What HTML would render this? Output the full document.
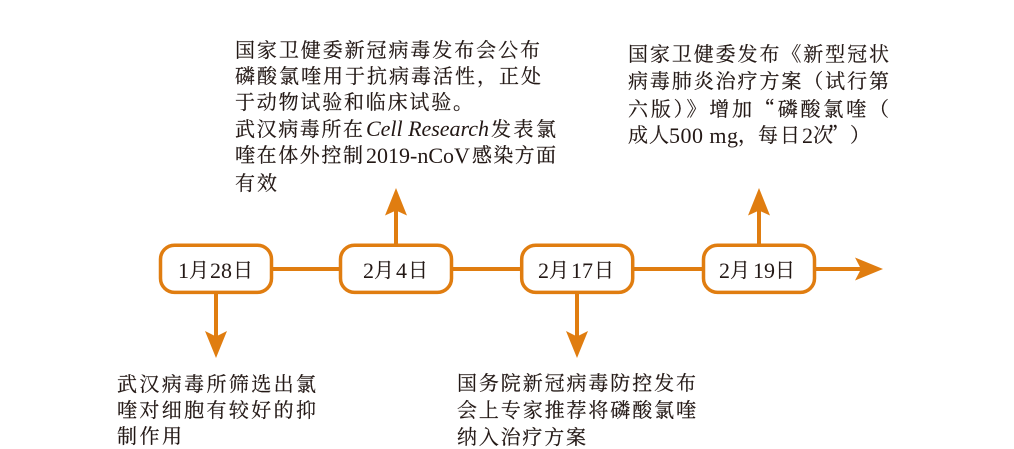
<!DOCTYPE html>
<html><head><meta charset="utf-8"><style>
html,body{margin:0;padding:0;background:#fff}
svg{display:block}
text{font-family:"Noto Serif CJK SC","Liberation Serif",serif;font-size:20px;fill:#231815;stroke:#231815;stroke-width:.2px}
.l{font-family:"Liberation Serif",serif;font-size:22px;stroke-width:0}
.i{font-style:italic}
</style></head><body>
<svg width="1014" height="449" viewBox="0 0 1014 449" xmlns="http://www.w3.org/2000/svg">
<g stroke="#e07d10" stroke-width="4" fill="none">
<path d="M272 269H339M453 269H521M634 269H702M815 269H864"/>
<path d="M216 293V342M396 244V208M577 293V342M759 244V208"/>
</g>
<g fill="#e07d10">
<path d="M883 269L855 257.500L861 269L855 280.500Z"/>
<path d="M216 358L205 331L216 336.500L227 331Z"/>
<path d="M577 358L566 331L577 336.500L588 331Z"/>
<path d="M396 188L385 215.500L396 210.500L407 215.500Z"/>
<path d="M759 188L748 215.500L759 210.500L770 215.500Z"/>
</g>
<g fill="#fff" stroke="#e07d10" stroke-width="3.5">
<rect x="160.500" y="245.200" width="111" height="47.200" rx="14"/>
<rect x="340.500" y="245.200" width="111" height="47.200" rx="14"/>
<rect x="521.700" y="245.200" width="111" height="47.200" rx="14"/>
<rect x="703.500" y="245.200" width="111" height="47.200" rx="14"/>
</g>

<text class="l" x="178" y="278">1</text><text x="189" y="277">月</text><text class="l" x="210" y="278">28</text><text x="233" y="277">日</text>
<text class="l" x="363" y="278">2</text><text x="374" y="277">月</text><text class="l" x="396" y="278">4</text><text x="408" y="277">日</text>
<text class="l" x="538" y="278">2</text><text x="549" y="277">月</text><text class="l" x="571" y="278">17</text><text x="594" y="277">日</text>
<text class="l" x="719" y="278">2</text><text x="730" y="277">月</text><text class="l" x="753" y="278">19</text><text x="775" y="277">日</text>

<text x="235" y="57" textLength="305" lengthAdjust="spacing">国家卫健委新冠病毒发布会公布</text>
<text x="235" y="83" textLength="306" lengthAdjust="spacing">磷酸氯喹用于抗病毒活性，正处</text>
<text x="235" y="109" textLength="238" lengthAdjust="spacing">于动物试验和临床试验。</text>
<text x="235" y="136" textLength="128" lengthAdjust="spacing">武汉病毒所在</text><text class="l i" x="366" y="136" textLength="123" lengthAdjust="spacing">Cell Research</text><text x="491" y="136" textLength="65" lengthAdjust="spacing">发表氯</text>
<text x="235" y="162" textLength="128" lengthAdjust="spacing">喹在体外控制</text><text class="l" x="366" y="163">2019-nCoV</text><text x="472" y="162" textLength="84" lengthAdjust="spacing">感染方面</text>
<text x="235" y="190" textLength="42" lengthAdjust="spacing">有效</text>

<text x="628" y="61" textLength="261" lengthAdjust="spacing">国家卫健委发布《新型冠状</text>
<text x="628" y="88" textLength="261" lengthAdjust="spacing">病毒肺炎治疗方案（试行第</text>
<text x="628" y="116" textLength="261" lengthAdjust="spacing">六版）》增加“磷酸氯喹（</text>
<text x="628" y="142" textLength="41" lengthAdjust="spacing">成人</text><text class="l" x="669" y="143" textLength="69" lengthAdjust="spacing">500 mg</text><text x="738" y="142">，</text><text x="758" y="142">每</text><text x="780" y="142">日</text><text class="l" x="802" y="143">2</text><text x="813" y="142">次</text><text x="828" y="142">”</text><text x="850" y="142">）</text>

<text x="117" y="391" textLength="199" lengthAdjust="spacing">武汉病毒所筛选出氯</text>
<text x="117" y="417" textLength="199" lengthAdjust="spacing">喹对细胞有较好的抑</text>
<text x="117" y="443" textLength="65" lengthAdjust="spacing">制作用</text>

<text x="457" y="390" textLength="239" lengthAdjust="spacing">国务院新冠病毒防控发布</text>
<text x="457" y="417" textLength="239" lengthAdjust="spacing">会上专家推荐将磷酸氯喹</text>
<text x="457" y="444" textLength="129" lengthAdjust="spacing">纳入治疗方案</text>
</svg>
</body></html>
